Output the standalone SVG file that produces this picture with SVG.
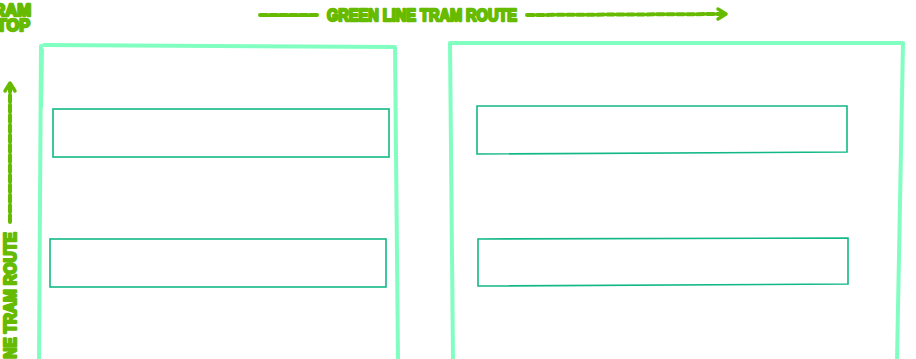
<svg xmlns="http://www.w3.org/2000/svg" width="916" height="359" viewBox="0 0 916 359">
<style>
.frame{fill:none;stroke:#80ffc0;stroke-width:4;stroke-linecap:round;stroke-linejoin:round}
.box{fill:none;stroke:#12b886;stroke-width:1.6}
.lbl{font-family:"Liberation Sans",Arial,sans-serif;font-weight:bold;font-size:17px;fill:#66bb00;stroke:#66bb00;stroke-width:2.4;stroke-linejoin:round}
.route{fill:none;stroke:#66bb00;stroke-width:4;stroke-linecap:round;stroke-dasharray:7 3}
.head{fill:none;stroke:#66bb00;stroke-width:3.5;stroke-linecap:round;stroke-linejoin:round}
</style>
<rect width="916" height="359" fill="#ffffff"/>
<g id="frame-left">
<path class="frame" d="M41,107 L42,50 M44,45 L395,47 L398,361 M41,46 L39,361"/>
<rect class="box" x="53" y="109" width="336" height="48"/>
<rect class="box" x="50" y="239" width="336" height="48"/>
</g>
<g id="frame-right">
<path class="frame" d="M453,361 L450,43 L903,43 L897,361"/>
<path class="box" d="M477,106 L847,106 L847,152 L477,154 Z"/>
<path class="box" d="M478,239 L848,238 L848,284 L478,286 Z"/>
</g>
<g id="tram-stop">
<text class="lbl" x="31" y="16" text-anchor="end" textLength="48" lengthAdjust="spacingAndGlyphs">TRAM</text>
<text class="lbl" x="30" y="31" text-anchor="end" textLength="44" lengthAdjust="spacingAndGlyphs">STOP</text>
</g>
<g id="connectors">
<path class="route" d="M260,15 L318,15"/>
<path class="route" d="M527,15 L725,14"/>
<path class="head" d="M718,9 L726,14 L718,19"/>
<path class="route" d="M10,222 L10,85"/>
<path class="head" d="M5,91 L10,83 L15,91"/>
</g>
<g id="route-labels">
<text class="lbl" x="327" y="21" textLength="190" lengthAdjust="spacingAndGlyphs">GREEN LINE TRAM ROUTE</text>
<text class="lbl" transform="translate(16,232) rotate(-90)" x="0" y="0" text-anchor="end" textLength="140" lengthAdjust="spacingAndGlyphs">LINE TRAM ROUTE</text>
</g>
</svg>
